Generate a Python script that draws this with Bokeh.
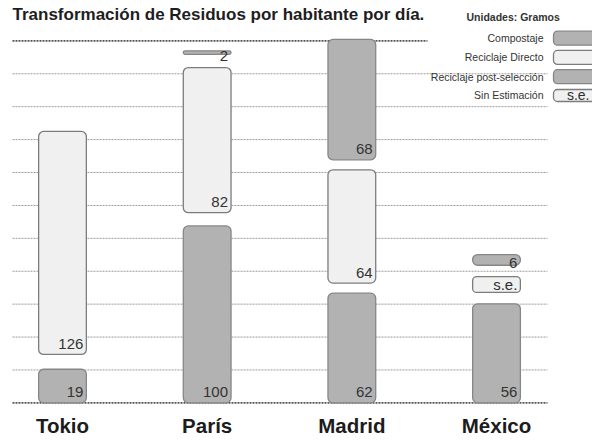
from bokeh.plotting import figure
from bokeh.models import ColumnDataSource, Range1d, Label
from bokeh.core.properties import value
from bokeh.embed import file_html
from bokeh.resources import INLINE

# ---------------- data ----------------
title_text = "Transformación de Residuos por habitante por día."
units_text = "Unidades: Gramos"
cities = ["Tokio", "París", "Madrid", "México"]
compostaje = [19, 100, 62, 56]
reciclaje_directo = [126, 82, 64, None]      # None -> sin estimación (s.e.)
reciclaje_post = [None, 2, 68, 6]
series_names = ["Compostaje", "Reciclaje Directo", "Reciclaje post-selección", "Sin Estimación"]
se_text = "s.e."

# ---------------- layout / style ----------------
W, H = 592, 436
VS = 0.9884                     # vertical squeeze so everything fits


def ry(y_ref):                  # layout px (reference picture) -> canvas px
    return 8 + (y_ref - 13) * VS


BASE_PX = ry(412)               # canvas px of baseline
PX_PER_G = 1.79 * VS
X0_PX = 62.0                    # canvas px of first city centre
PX_PER_X = 144.67
GAPS = [8.4, 7.5, 5.7, 6.4]
SE_HEIGHT = 9.0
BAR_W = 0.33
GRID_STEP = 18.6
N_GRID = 11
FONT = value("Liberation Sans")
DARK_FILL, DARK_LINE = "#b2b2b2", "#868686"
LIGHT_FILL, LIGHT_LINE = "#f0f0f0", "#7c7c7c"
fills = [DARK_FILL, LIGHT_FILL, DARK_FILL, LIGHT_FILL]
lines = [DARK_LINE, LIGHT_LINE, DARK_LINE, LIGHT_LINE]


def dx(px):
    return (px - X0_PX) / PX_PER_X


def dy(px):
    return (BASE_PX - px) / PX_PER_G


p = figure(width=W, height=H, output_backend="svg", toolbar_location=None,
           min_border=0, x_axis_type=None, y_axis_type=None,
           x_range=Range1d(dx(0), dx(W)), y_range=Range1d(dy(H), dy(0)))
p.outline_line_color = None
p.background_fill_color = "white"
p.border_fill_color = "white"
p.grid.visible = False

# ---------------- grid lines ----------------
grid_y = [i * GRID_STEP for i in range(1, N_GRID)]
p.segment(x0=[dx(12)] * len(grid_y), x1=[dx(547)] * len(grid_y), y0=grid_y, y1=grid_y,
          line_color="#9a9a9a", line_width=1, line_dash="2 1")
p.segment(x0=[dx(12)], x1=[dx(547)], y0=[0], y1=[0],
          line_color="#555555", line_width=1.6, line_dash="2 1")
p.segment(x0=[dx(12)], x1=[dx(427)], y0=[N_GRID * GRID_STEP], y1=[N_GRID * GRID_STEP],
          line_color="#555555", line_width=1.6, line_dash="2 1")

# ---------------- stacked segments ----------------
seg = {"x": [], "bottom": [], "top": [], "fill": [], "line": []}
lab = {"x": [], "y": [], "text": []}
se_box = {"x": [], "bottom": [], "top": []}
for i, city in enumerate(cities):
    vals = [compostaje[i], reciclaje_directo[i], reciclaje_post[i]]
    b = 0.0
    for k, v in enumerate(vals):
        if v is None:
            if k == 1:
                se_box["x"].append(i)
                se_box["bottom"].append(b)
                se_box["top"].append(b + SE_HEIGHT)
                b += SE_HEIGHT + GAPS[i]
            continue
        seg["x"].append(i)
        seg["bottom"].append(b)
        seg["top"].append(b + v)
        seg["fill"].append(fills[k])
        seg["line"].append(lines[k])
        lab["x"].append(i + BAR_W / 2 - 3 / PX_PER_X)
        if v >= 10:
            lab["y"].append(b + 10.5 / PX_PER_G)
        else:
            lab["y"].append(b + v / 2 - 3 / PX_PER_G)
        lab["text"].append(str(v))
        b += v + GAPS[i]

p.vbar(x="x", bottom="bottom", top="top", width=BAR_W, source=ColumnDataSource(seg),
       fill_color="fill", line_color="line", line_width=1.3, border_radius=5)
p.vbar(x="x", bottom="bottom", top="top", width=BAR_W, source=ColumnDataSource(se_box),
       fill_color=LIGHT_FILL, line_color=LIGHT_LINE, line_width=1.3, border_radius=4)
se_src = ColumnDataSource({"x": [x + BAR_W / 2 - 3 / PX_PER_X for x in se_box["x"]],
                           "y": [(a + c) / 2 for a, c in zip(se_box["bottom"], se_box["top"])],
                           "text": [se_text] * len(se_box["x"])})
p.text(x="x", y="y", text="text", source=se_src, text_font=FONT, text_font_size="15px",
       text_align="right", text_baseline="middle", text_color="#2e2e2e")

p.text(x="x", y="y", text="text", source=ColumnDataSource(lab), text_font=FONT,
       text_font_size="15px", text_align="right", text_baseline="middle", text_color="#333333")

# ---------------- city labels ----------------
p.text(x=list(range(len(cities))), y=[dy(ry(435))] * len(cities), text=cities, text_font=FONT,
       text_font_size="20.5px", text_font_style="bold", text_align="center",
       text_baseline="middle", text_color="#1c1c1c")

# ---------------- title ----------------
p.add_layout(Label(x=dx(12), y=dy(ry(19.5)), text=title_text, text_font="Liberation Sans",
                   text_font_size="17px", text_font_style="bold", text_color="#1e1e1e",
                   text_baseline="middle", text_align="left"))

# ---------------- legend (manual) ----------------
p.add_layout(Label(x=dx(466), y=dy(ry(22)), text=units_text, text_font="Liberation Sans",
                   text_font_size="10.5px", text_font_style="bold", text_color="#333333",
                   text_baseline="middle", text_align="left"))
leg_rows = [ry(r) for r in (43, 62.5, 82, 101)]
p.text(x=[dx(543)] * 4, y=[dy(r) for r in leg_rows], text=series_names, text_font=FONT,
       text_font_size="10.5px", text_align="right", text_baseline="middle", text_color="#333333")
sw_x = (dx(553) + dx(598)) / 2
sw_w = dx(598) - dx(553)
p.rect(x=[sw_x] * 4, y=[dy(r) for r in leg_rows],
       width=sw_w, height=[14 / PX_PER_G] * 3 + [12 / PX_PER_G],
       fill_color=fills, line_color=lines, line_width=1.3, border_radius=4)
p.text(x=[dx(589)], y=[dy(leg_rows[3])], text=[se_text], text_font=FONT,
       text_font_size="14px", text_align="right", text_baseline="middle", text_color="#2e2e2e")

open("out.html", "w").write(file_html(p, INLINE))
